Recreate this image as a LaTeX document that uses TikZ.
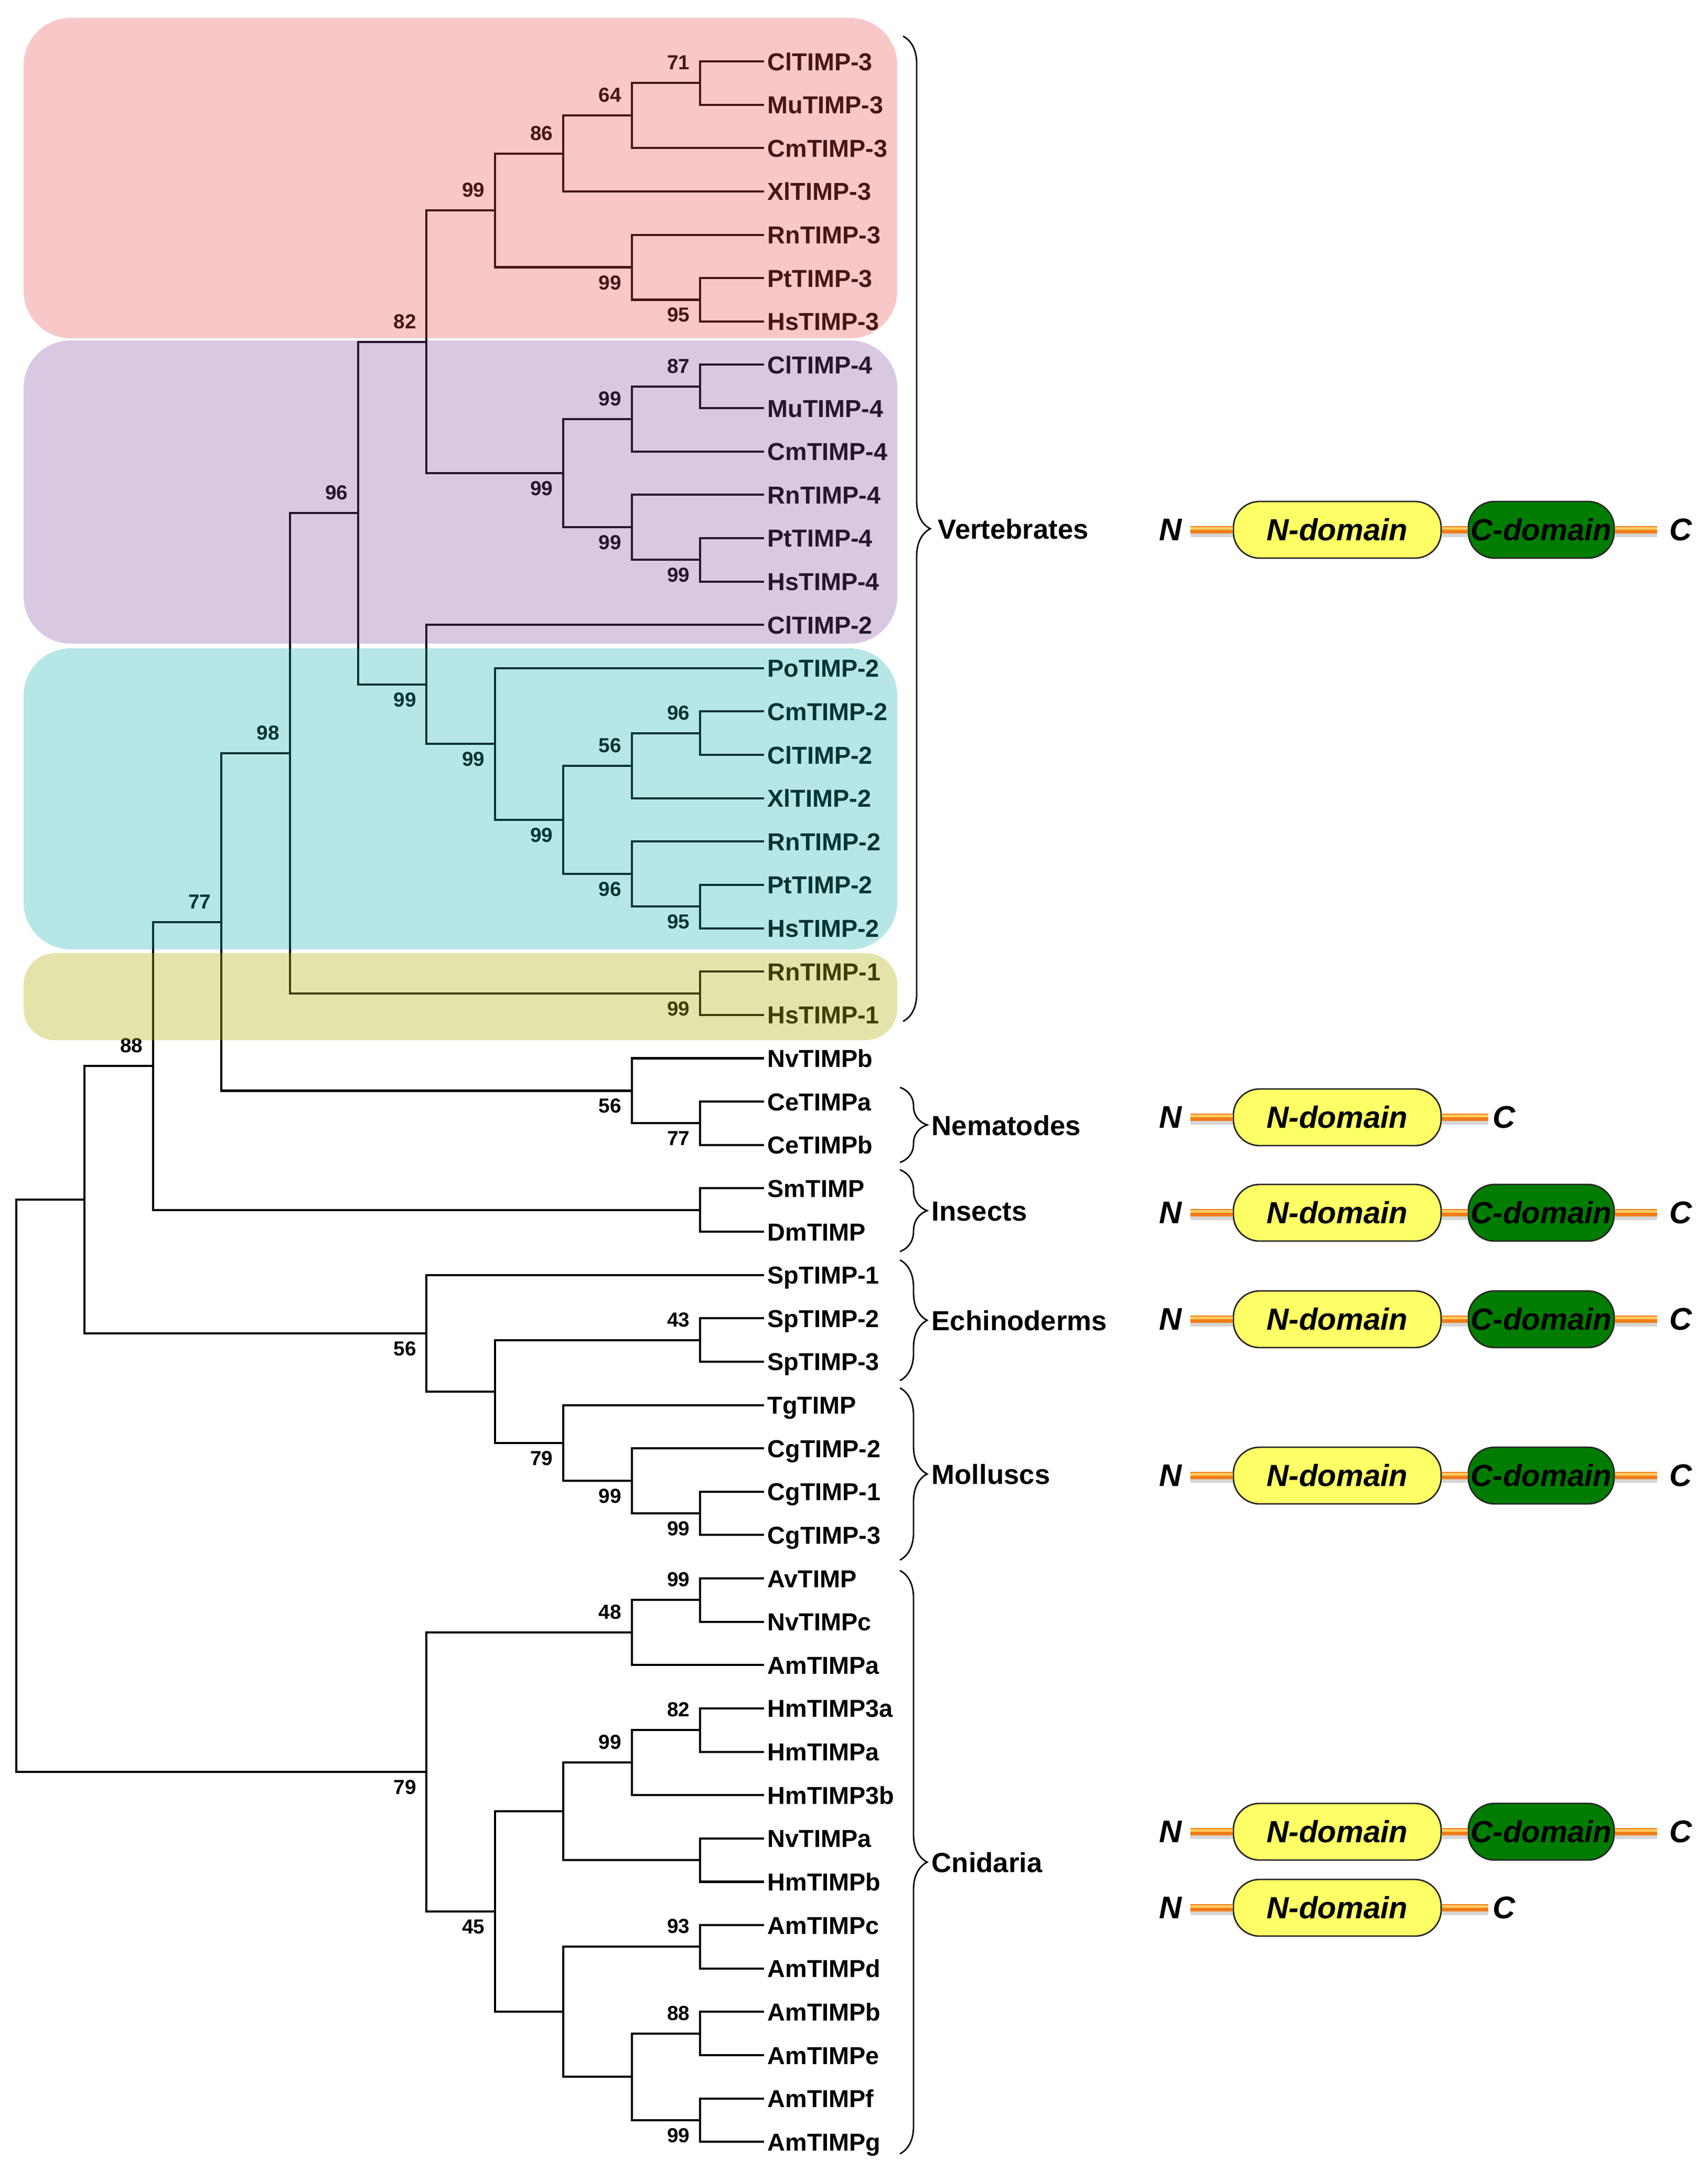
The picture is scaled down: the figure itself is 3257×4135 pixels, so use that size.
\documentclass[tikz,border=0pt]{standalone}
\usepackage{fontspec}
\setmainfont{Liberation Sans}
\usetikzlibrary{decorations.pathreplacing}
\definecolor{pinkov}{RGB}{232,72,72}
\definecolor{purpov}{RGB}{128,72,158}
\definecolor{tealov}{RGB}{18,172,172}
\definecolor{oliveov}{RGB}{178,178,12}
\definecolor{domyellow}{RGB}{255,255,102}
\definecolor{domgreen}{RGB}{0,125,0}
\definecolor{linkorange}{RGB}{240,125,25}
\definecolor{linklight}{RGB}{255,205,95}
\newcommand\treept[3]{\coordinate (#1) at ({31+130.4*#2},{117+82.63*#3});}
\newcommand\leafnode[2]{\coordinate (l#1) at (1457,{117+82.63*#1});
  \node[leaflbl] (t#1) at (1463,{117+82.63*#1+17}) {#2};}
\newcommand\clade[3]{\draw[branch] (#2) -| (#1) |- (#3);}
\newcommand\bootlbl[5]{\node[bslbl] (#1) at ({31+130.4*#2-19},{117+82.63*#3+#4+12.5}) {#5};}
\newcommand\linkline[2]{%
  \draw[line width=0.1cm, black!16] ([yshift=-2.6pt]#1) -- ([yshift=-2.6pt]#2);
  \draw[line width=0.14cm, linkorange] (#1) -- (#2);
  \draw[line width=0.05cm, linklight] ([yshift=0.8pt]#1) -- ([yshift=0.8pt]#2);}
\newcommand\twodomain[2]{%
  \node[termlbl] (#1N) at (2232,#2) {N};
  \coordinate (#1a) at (2270,#2);
  \node[ndom] (#1n) at (2550,#2) {N-domain};
  \node[cdom] (#1c) at (2939,#2) {C-domain};
  \coordinate (#1b) at (3160,#2);
  \node[termlbl] (#1C) at (3205,#2) {C};
  \linkline{#1a}{#1n.west}
  \linkline{#1n.east}{#1c.west}
  \linkline{#1c.east}{#1b}}
\newcommand\onedomain[2]{%
  \node[termlbl] (#1N) at (2232,#2) {N};
  \coordinate (#1a) at (2270,#2);
  \node[ndom] (#1n) at (2550,#2) {N-domain};
  \coordinate (#1b) at (2838,#2);
  \node[termlbl] (#1C) at (2868,#2) {C};
  \linkline{#1a}{#1n.west}
  \linkline{#1n.east}{#1b}}
\tikzset{
  branch/.style={line width=1.15pt, black, line join=miter},
  leaflbl/.style={font=\fontsize{13.3}{16}\selectfont\bfseries, inner sep=0, anchor=base west},
  bslbl/.style={font=\fontsize{11}{13}\selectfont\bfseries, inner sep=0, anchor=base east},
  grplbl/.style={font=\fontsize{15}{18}\selectfont\bfseries, inner sep=0, anchor=base west},
  gbrace/.style={decorate, decoration={brace, amplitude=0.52cm}, line width=0.8pt},
  ndom/.style={draw=black!85, line width=0.8pt, fill=domyellow, rounded corners=0.5cm,
    minimum width=3.96cm, minimum height=1.08cm, inner sep=0,
    font=\fontsize{16.6}{20}\selectfont\bfseries\itshape},
  cdom/.style={ndom, fill=domgreen, minimum width=2.78cm},
  termlbl/.style={font=\fontsize{17}{20}\selectfont\bfseries\itshape, inner sep=0},
  overlay/.style={fill opacity=0.3, rounded corners=0.9cm},
}
\begin{document}
\begin{tikzpicture}[x=0.01cm, y=-0.01cm]
\useasboundingbox (0,0) rectangle (3257,4135);
% leaves
\leafnode{0}{ClTIMP-3}\leafnode{1}{MuTIMP-3}\leafnode{2}{CmTIMP-3}\leafnode{3}{XlTIMP-3}
\leafnode{4}{RnTIMP-3}\leafnode{5}{PtTIMP-3}\leafnode{6}{HsTIMP-3}
\leafnode{7}{ClTIMP-4}\leafnode{8}{MuTIMP-4}\leafnode{9}{CmTIMP-4}\leafnode{10}{RnTIMP-4}
\leafnode{11}{PtTIMP-4}\leafnode{12}{HsTIMP-4}
\leafnode{13}{ClTIMP-2}\leafnode{14}{PoTIMP-2}\leafnode{15}{CmTIMP-2}\leafnode{16}{ClTIMP-2}
\leafnode{17}{XlTIMP-2}\leafnode{18}{RnTIMP-2}\leafnode{19}{PtTIMP-2}\leafnode{20}{HsTIMP-2}
\leafnode{21}{RnTIMP-1}\leafnode{22}{HsTIMP-1}
\leafnode{23}{NvTIMPb}\leafnode{24}{CeTIMPa}\leafnode{25}{CeTIMPb}
\leafnode{26}{SmTIMP}\leafnode{27}{DmTIMP}
\leafnode{28}{SpTIMP-1}\leafnode{29}{SpTIMP-2}\leafnode{30}{SpTIMP-3}
\leafnode{31}{TgTIMP}\leafnode{32}{CgTIMP-2}\leafnode{33}{CgTIMP-1}\leafnode{34}{CgTIMP-3}
\leafnode{35}{AvTIMP}\leafnode{36}{NvTIMPc}\leafnode{37}{AmTIMPa}
\leafnode{38}{HmTIMP3a}\leafnode{39}{HmTIMPa}\leafnode{40}{HmTIMP3b}
\leafnode{41}{NvTIMPa}\leafnode{42}{HmTIMPb}
\leafnode{43}{AmTIMPc}\leafnode{44}{AmTIMPd}\leafnode{45}{AmTIMPb}\leafnode{46}{AmTIMPe}
\leafnode{47}{AmTIMPf}\leafnode{48}{AmTIMPg}
% internal nodes
\treept{nA}{10}{0.5}\treept{nB}{9}{1.25}\treept{nC}{8}{2.125}
\treept{nD}{10}{5.5}\treept{nE}{9}{4.75}\treept{nF}{7}{3.4375}
\treept{nG}{10}{7.5}\treept{nH}{9}{8.25}\treept{nI}{10}{11.5}\treept{nJ}{9}{10.75}
\treept{nK}{8}{9.5}\treept{nL}{6}{6.46875}
\treept{nM}{10}{15.5}\treept{nN}{9}{16.25}\treept{nO}{10}{19.5}\treept{nP}{9}{18.75}
\treept{nQ}{8}{17.5}\treept{nR}{7}{15.75}\treept{nS}{6}{14.375}\treept{nT}{5}{10.421875}
\treept{nU}{10}{21.5}\treept{nV}{4}{15.9609375}
\treept{nW}{10}{24.5}\treept{nX}{9}{23.75}\treept{nY}{3}{19.85546875}
\treept{nZ}{10}{26.5}\treept{nAA}{2}{23.177734375}
\treept{nAB}{10}{29.5}\treept{nAC}{10}{33.5}\treept{nAD}{9}{32.75}\treept{nAE}{8}{31.875}
\treept{nAF}{7}{30.6875}\treept{nAG}{6}{29.34375}\treept{nAH}{1}{26.2607421875}
\treept{nAI}{10}{35.5}\treept{nAJ}{9}{36.25}\treept{nAK}{10}{38.5}\treept{nAL}{9}{39.25}
\treept{nAM}{10}{41.5}\treept{nAN}{8}{40.375}\treept{nAO}{10}{43.5}\treept{nAP}{10}{45.5}
\treept{nAQ}{10}{47.5}\treept{nAR}{9}{46.5}\treept{nAS}{8}{45}\treept{nAT}{7}{42.6875}
\treept{nAU}{6}{39.46875}\treept{nRoot}{0}{32.86}
% branches
\clade{nA}{l0}{l1}\clade{nB}{nA}{l2}\clade{nC}{nB}{l3}
\clade{nD}{l5}{l6}\clade{nE}{l4}{nD}\clade{nF}{nC}{nE}
\clade{nG}{l7}{l8}\clade{nH}{nG}{l9}\clade{nI}{l11}{l12}\clade{nJ}{l10}{nI}
\clade{nK}{nH}{nJ}\clade{nL}{nF}{nK}
\clade{nM}{l15}{l16}\clade{nN}{nM}{l17}\clade{nO}{l19}{l20}\clade{nP}{l18}{nO}
\clade{nQ}{nN}{nP}\clade{nR}{l14}{nQ}\clade{nS}{l13}{nR}\clade{nT}{nL}{nS}
\clade{nU}{l21}{l22}\clade{nV}{nT}{nU}
\clade{nW}{l24}{l25}\clade{nX}{l23}{nW}\clade{nY}{nV}{nX}
\clade{nZ}{l26}{l27}\clade{nAA}{nY}{nZ}
\clade{nAB}{l29}{l30}\clade{nAC}{l33}{l34}\clade{nAD}{l32}{nAC}\clade{nAE}{l31}{nAD}
\clade{nAF}{nAB}{nAE}\clade{nAG}{l28}{nAF}\clade{nAH}{nAA}{nAG}
\clade{nAI}{l35}{l36}\clade{nAJ}{nAI}{l37}\clade{nAK}{l38}{l39}\clade{nAL}{nAK}{l40}
\clade{nAM}{l41}{l42}\clade{nAN}{nAL}{nAM}\clade{nAO}{l43}{l44}\clade{nAP}{l45}{l46}
\clade{nAQ}{l47}{l48}\clade{nAR}{nAP}{nAQ}\clade{nAS}{nAO}{nAR}\clade{nAT}{nAN}{nAS}
\clade{nAU}{nAJ}{nAT}\clade{nRoot}{nAH}{nAU}
% bootstrap values
\bootlbl{bA}{10}{0.5}{-38}{71}\bootlbl{bB}{9}{1.25}{-38}{64}\bootlbl{bC}{8}{2.125}{-38}{86}
\bootlbl{bD}{10}{5.5}{30}{95}\bootlbl{bE}{9}{4.75}{30}{99}\bootlbl{bF}{7}{3.4375}{-38}{99}
\bootlbl{bG}{10}{7.5}{-38}{87}\bootlbl{bH}{9}{8.25}{-38}{99}\bootlbl{bI}{10}{11.5}{30}{99}
\bootlbl{bJ}{9}{10.75}{30}{99}\bootlbl{bK}{8}{9.5}{30}{99}\bootlbl{bL}{6}{6.46875}{-38}{82}
\bootlbl{bM}{10}{15.5}{-38}{96}\bootlbl{bN}{9}{16.25}{-38}{56}\bootlbl{bO}{10}{19.5}{30}{95}
\bootlbl{bP}{9}{18.75}{30}{96}\bootlbl{bQ}{8}{17.5}{30}{99}\bootlbl{bR}{7}{15.75}{30}{99}
\bootlbl{bS}{6}{14.375}{30}{99}\bootlbl{bT}{5}{10.421875}{-38}{96}\bootlbl{bU}{10}{21.5}{30}{99}
\bootlbl{bV}{4}{15.9609375}{-38}{98}\bootlbl{bW}{10}{24.5}{30}{77}\bootlbl{bX}{9}{23.75}{30}{56}
\bootlbl{bY}{3}{19.85546875}{-38}{77}\bootlbl{bAA}{2}{23.177734375}{-38}{88}
\bootlbl{bAB}{10}{29.5}{-38}{43}\bootlbl{bAC}{10}{33.5}{30}{99}\bootlbl{bAD}{9}{32.75}{30}{99}
\bootlbl{bAE}{8}{31.875}{30}{79}\bootlbl{bAG}{6}{29.34375}{30}{56}
\bootlbl{bAI}{10}{35.5}{-38}{99}\bootlbl{bAJ}{9}{36.25}{-38}{48}\bootlbl{bAK}{10}{38.5}{-38}{82}
\bootlbl{bAL}{9}{39.25}{-38}{99}\bootlbl{bAO}{10}{43.5}{-38}{93}\bootlbl{bAP}{10}{45.5}{-38}{88}
\bootlbl{bAQ}{10}{47.5}{30}{99}\bootlbl{bAT}{7}{42.6875}{30}{45}\bootlbl{bAU}{6}{39.46875}{30}{79}
% coloured clade overlays
\fill[pinkov, overlay] (45,34) rectangle (1711,645);
\fill[purpov, overlay] (45,649) rectangle (1711,1227);
\fill[tealov, overlay] (45,1236) rectangle (1711,1810);
\fill[oliveov, fill opacity=0.35, rounded corners=0.6cm] (45,1817) rectangle (1711,1983);
% group braces
\coordinate (vt) at (1722,69); \coordinate (vb) at (1722,1947);
\draw[gbrace] (vt) -- (vb);
\node[grplbl] (gVert) at (1788,1027) {Vertebrates};
\coordinate (nt) at (1716,2073); \coordinate (nb) at (1716,2216);
\draw[gbrace] (nt) -- (nb);
\node[grplbl] (gNem) at (1776,2164) {Nematodes};
\coordinate (it) at (1716,2230); \coordinate (ib) at (1716,2386);
\draw[gbrace] (it) -- (ib);
\node[grplbl] (gIns) at (1776,2327) {Insects};
\coordinate (et) at (1716,2402); \coordinate (eb) at (1716,2632);
\draw[gbrace] (et) -- (eb);
\node[grplbl] (gEch) at (1776,2536) {Echinoderms};
\coordinate (mt) at (1716,2646); \coordinate (mb) at (1716,2974);
\draw[gbrace] (mt) -- (mb);
\node[grplbl] (gMol) at (1776,2829) {Molluscs};
\coordinate (ct) at (1716,2994); \coordinate (cb) at (1716,4106);
\draw[gbrace] (ct) -- (cb);
\node[grplbl] (gCni) at (1776,3569) {Cnidaria};
% domain architectures
\twodomain{dv}{1010}
\onedomain{dn}{2130}
\twodomain{di}{2312}
\twodomain{de}{2515}
\twodomain{dm}{2813}
\twodomain{dc}{3492}
\onedomain{dk}{3637}
\end{tikzpicture}
\end{document}
